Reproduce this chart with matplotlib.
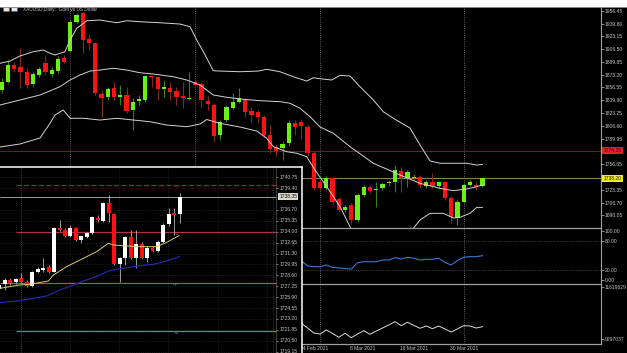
import numpy as np
import matplotlib.pyplot as plt
from matplotlib.lines import Line2D
from matplotlib.patches import Rectangle
from matplotlib.transforms import blended_transform_factory as blend

plt.rcParams['font.family'] = ['Liberation Sans', 'DejaVu Sans']

W, H = 627, 353

# ---- XAUUSD daily, bar 0 = leftmost visible bar ----
d_open = [1853.2, 1864.0, 1886.4, 1883.5, 1877.0, 1860.6, 1872.7, 1888.7, 1874.0, 1878.3,
          1894.5, 1904.4, 1942.1, 1953.1, 1919.2, 1914.8, 1848.0, 1844.1, 1855.4, 1844.5,
          1846.7, 1827.2, 1838.5, 1840.2, 1871.4, 1869.7, 1854.1, 1855.4, 1852.3, 1845.4,
          1841.5, 1864.0, 1860.4, 1839.5, 1833.7, 1794.6, 1814.1, 1830.2, 1837.2, 1840.2,
          1826.3, 1824.9, 1818.4, 1794.6, 1779.0, 1777.3, 1783.8, 1809.8, 1811.5, 1805.0,
          1770.8, 1733.8, 1725.2, 1738.2, 1711.3, 1697.0, 1703.5, 1684.0, 1716.5, 1726.5,
          1723.0, 1725.2, 1731.5, 1733.8, 1747.7, 1738.0, 1738.0, 1740.3, 1727.9, 1733.8,
          1727.9, 1732.8, 1712.2, 1686.5, 1707.8, 1729.9, 1729.5, 1728.2]
d_high = [1868.8, 1892.3, 1889.7, 1907.9, 1881.9, 1876.6, 1883.2, 1898.8, 1883.2, 1897.5,
          1898.8, 1944.3, 1953.1, 1955.1, 1924.8, 1916.1, 1853.2, 1857.5, 1864.0, 1859.7,
          1857.5, 1842.8, 1846.7, 1872.7, 1872.7, 1871.4, 1866.2, 1864.0, 1857.5, 1864.0,
          1877.0, 1868.8, 1863.6, 1845.4, 1836.3, 1814.1, 1833.7, 1848.9, 1855.4, 1842.4,
          1831.5, 1827.2, 1820.7, 1807.6, 1782.9, 1786.8, 1814.1, 1814.1, 1815.4, 1807.6,
          1773.8, 1736.0, 1741.2, 1740.3, 1713.9, 1703.5, 1706.1, 1719.1, 1729.5, 1729.5,
          1733.8, 1733.4, 1736.0, 1755.5, 1753.3, 1749.0, 1743.8, 1742.5, 1736.0, 1745.5,
          1734.7, 1734.7, 1715.2, 1711.3, 1732.1, 1736.0, 1733.8, 1739.9]
d_low = [1849.3, 1862.3, 1876.6, 1855.8, 1855.8, 1857.1, 1870.1, 1872.7, 1870.1, 1875.3,
         1888.4, 1903.1, 1940.0, 1901.0, 1905.3, 1846.7, 1818.4, 1840.2, 1840.2, 1833.7,
         1822.9, 1801.1, 1833.7, 1838.0, 1857.5, 1840.2, 1844.5, 1840.2, 1833.7, 1829.4,
         1840.2, 1855.8, 1829.4, 1827.2, 1785.9, 1788.1, 1811.5, 1828.5, 1835.9, 1818.4,
         1811.9, 1810.2, 1792.0, 1770.8, 1767.3, 1762.1, 1780.3, 1794.6, 1789.4, 1767.3,
         1723.0, 1723.0, 1723.0, 1704.8, 1694.4, 1694.4, 1678.7, 1681.3, 1713.9, 1719.1,
         1701.3, 1723.0, 1728.2, 1720.8, 1720.8, 1727.3, 1736.0, 1725.6, 1725.6, 1725.2,
         1725.6, 1709.6, 1680.0, 1677.4, 1706.1, 1728.2, 1723.0, 1726.9]
d_close = [1863.6, 1885.8, 1880.5, 1877.0, 1859.7, 1874.0, 1880.5, 1877.0, 1879.2, 1893.9,
           1890.0, 1942.1, 1950.9, 1918.3, 1914.0, 1848.9, 1842.4, 1854.1, 1844.1, 1847.1,
           1825.9, 1838.0, 1841.1, 1870.8, 1869.7, 1854.1, 1856.7, 1851.0, 1844.5, 1842.4,
           1843.2, 1859.7, 1840.8, 1835.0, 1793.3, 1811.9, 1831.1, 1838.0, 1843.2, 1824.9,
           1821.3, 1818.4, 1794.6, 1776.0, 1773.8, 1782.5, 1809.8, 1805.4, 1806.3, 1770.8,
           1725.6, 1725.2, 1739.0, 1707.4, 1697.0, 1700.2, 1684.0, 1716.5, 1726.5, 1722.1,
           1724.9, 1730.8, 1733.0, 1749.0, 1738.6, 1746.4, 1740.3, 1728.9, 1733.8, 1728.6,
           1732.8, 1712.2, 1688.2, 1707.8, 1729.5, 1734.0, 1727.3, 1738.2]

# Bollinger bands read at bar positions
bb_up_x = [-0.27, 1.33, 2.93, 5.06, 6.66, 7.74, 8.54, 10.14, 10.94, 12.02, 13.62, 15.75,
           18.42, 20.03, 22.16, 25.36, 28.56, 30.17, 31.24, 32.30, 33.90, 34.97, 38.18,
           41.11, 42.45, 44.59, 46.72, 48.86, 49.92, 50.99, 52.87, 54.20, 55.80, 57.40,
           59.53, 61.13, 62.74, 63.81, 65.41, 67.01, 68.62, 70.22, 74.50, 76.10, 77.0]
bb_up = [1888.0, 1890.9, 1897.5, 1903.1, 1905.3, 1901.0, 1898.8, 1903.1, 1918.3, 1933.5,
         1943.4, 1944.3, 1940.8, 1943.4, 1942.1, 1940.8, 1939.1, 1935.6, 1918.3, 1903.1,
         1878.3, 1877.9, 1877.0, 1877.9, 1880.2, 1877.0, 1870.5, 1864.9, 1869.2, 1867.9,
         1866.2, 1872.3, 1871.4, 1857.5, 1840.2, 1824.9, 1816.4, 1811.2, 1803.7, 1781.6,
         1760.8, 1757.8, 1757.8, 1755.5, 1756.2]
bb_mid_x = [-0.27, 2.93, 6.14, 9.34, 10.94, 12.54, 14.15, 15.75, 17.88, 20.03, 22.16,
            24.29, 27.49, 29.64, 31.77, 33.90, 36.05, 38.71, 41.38, 44.59, 46.19, 47.79,
            49.39, 51.0, 53.12, 55.80, 59.53, 62.74, 63.81, 67.01, 70.22, 72.35, 74.50,
            76.10, 77.0]
bb_mid = [1833.7, 1840.2, 1846.7, 1857.5, 1866.2, 1872.7, 1877.9, 1879.2, 1881.5, 1879.2,
          1875.7, 1874.0, 1870.5, 1866.2, 1859.7, 1846.7, 1843.7, 1841.1, 1839.3, 1838.0,
          1835.9, 1829.4, 1818.4, 1805.0, 1796.8, 1779.4, 1757.8, 1746.4, 1742.5, 1731.7,
          1725.2, 1722.1, 1724.3, 1727.3, 1729.5]
bb_lo_x = [-0.27, 2.93, 6.14, 7.74, 8.54, 9.87, 10.94, 13.07, 15.75, 18.42, 21.08, 23.76,
           26.43, 29.64, 31.77, 32.84, 34.97, 38.18, 40.85, 42.45, 43.51, 45.66, 47.26,
           48.86, 50.19, 52.07, 54.20, 55.80, 57.0, 65.0, 65.94, 67.01, 68.62, 70.75,
           72.35, 73.42, 75.02, 76.10, 77.0]
bb_lo = [1779.0, 1782.9, 1790.7, 1809.8, 1820.7, 1827.2, 1816.4, 1816.4, 1814.1, 1816.4,
         1814.1, 1811.9, 1807.6, 1805.4, 1808.9, 1814.8, 1809.8, 1805.0, 1799.8, 1790.3,
         1779.4, 1772.9, 1770.8, 1766.4, 1749.0, 1727.3, 1701.3, 1675.2, 1655.0, 1655.0,
         1673.1, 1683.9, 1692.6, 1692.6, 1686.5, 1687.5, 1692.6, 1700.4, 1700.4]

month_bars = [11, 31, 51, 74]
date_bars = [48, 56, 64, 72]
date_labels = ['24 Feb 2021', '8 Mar 2021', '18 Mar 2021', '30 Mar 2021']
price_ticks = [1956.45, 1939.80, 1923.15, 1906.50, 1889.85, 1873.20, 1856.55, 1839.90,
               1823.25, 1806.60, 1789.95, 1756.65, 1723.35, 1706.70, 1690.05]
res_level = 1774.15

# lower panels (visible part only, from bar 48)
osc_start = 48
osc = [38.9, 29.0, 27.4, 27.4, 30.8, 25.8, 25.2, 23.5, 22.8, 35.5, 37.5, 37.5, 37.5, 40.9,
       40.9, 45.6, 42.9, 46.4, 44.5, 40.9, 42.3, 42.3, 44.4, 36.0, 30.8, 40.0, 46.4, 47.6,
       47.6, 49.6]
vol = [9998000, 9788000, 9565000, 9520000, 9699000, 9543000, 9373000, 9552000, 9355000,
       9520000, 9668000, 9507000, 9654000, 9788000, 9922000, 10070000, 9891000, 10043000,
       9909000, 9775000, 9878000, 9757000, 9878000, 9744000, 9610000, 9744000, 9891000,
       9878000, 9788000, 9846000]
vol_ticks = [11619629, 9297037]

# ---- intraday inset ----
h_open = [1726.91, 1727.53, 1728.03, 1727.74, 1728.23, 1727.74, 1727.32, 1728.98, 1729.22,
          1729.59, 1729.06, 1734.43, 1734.22, 1733.52, 1734.43, 1732.98, 1733.39, 1733.81,
          1735.75, 1735.33, 1737.52, 1736.20, 1730.01, 1730.71, 1733.39, 1730.79, 1732.48,
          1730.71, 1732.03, 1731.62, 1732.77, 1734.92, 1736.28, 1736.16]
h_high = [1727.61, 1728.31, 1728.23, 1728.31, 1728.85, 1728.03, 1729.14, 1729.68, 1730.71,
          1729.88, 1734.63, 1735.46, 1734.43, 1734.84, 1734.63, 1733.60, 1734.01, 1735.99,
          1736.08, 1737.73, 1738.55, 1736.37, 1730.92, 1733.52, 1734.22, 1734.22, 1732.69,
          1732.20, 1732.20, 1732.98, 1735.04, 1736.90, 1736.90, 1738.76]
h_low = [1726.66, 1726.79, 1727.41, 1727.57, 1727.61, 1727.20, 1727.16, 1728.85, 1729.06,
         1728.85, 1728.98, 1734.14, 1733.39, 1733.39, 1732.86, 1732.57, 1733.27, 1733.68,
         1735.25, 1735.17, 1735.25, 1729.88, 1727.74, 1729.88, 1730.59, 1729.47, 1730.59,
         1730.30, 1731.45, 1731.45, 1732.65, 1734.76, 1733.60, 1735.04]
h_close = [1727.41, 1728.03, 1727.61, 1728.15, 1727.74, 1727.32, 1728.98, 1729.35, 1729.55,
           1729.06, 1734.43, 1734.26, 1733.52, 1734.43, 1732.98, 1733.48, 1733.81, 1735.79,
           1735.46, 1737.52, 1736.28, 1730.01, 1730.71, 1733.39, 1730.71, 1732.48, 1730.71,
           1732.03, 1731.62, 1732.77, 1734.84, 1736.20, 1736.08, 1738.35]
ma_fast_x = [0.12, 1.95, 3.78, 5.61, 8.96, 9.87, 12.31, 14.75, 17.79, 19.93, 20.84, 23.28,
             25.72, 28.76, 30.59, 32.85]
ma_fast = [1726.99, 1727.20, 1727.41, 1727.49, 1727.90, 1728.64, 1729.68, 1730.50, 1731.53,
           1732.57, 1732.36, 1732.24, 1732.15, 1732.15, 1732.69, 1733.52]
ma_slow_x = [0.12, 1.95, 3.78, 6.22, 8.65, 11.09, 13.53, 15.97, 18.40, 19.93, 21.76, 23.28,
             25.72, 28.16, 30.59, 32.85]
ma_slow = [1725.22, 1725.34, 1725.47, 1725.76, 1726.04, 1726.79, 1727.41, 1728.03, 1728.64,
           1729.14, 1729.39, 1729.55, 1729.80, 1729.97, 1730.38, 1730.92]
pivot_names = ['R2', 'R1', 'PP', 'S1']
pivot_levels = [1739.79, 1733.97, 1727.61, 1721.75]
pivot_colors = ['#8e2a2a', '#a8344a', '#9c5e50', '#5c9c2c']
inset_ticks = [1740.75, 1739.40, 1736.70, 1735.35, 1734.00, 1732.65, 1731.30, 1729.95,
               1728.60, 1727.25, 1725.90, 1724.55, 1723.20, 1721.85, 1720.50, 1719.15]

AXIS_TXT = '#c4c4c4'
FS = 3.6


def px_box(x0, y0, x1, y1):
    return [x0 / W, 1 - y1 / H, (x1 - x0) / W, (y1 - y0) / H]


def plain(a):
    a.set_facecolor('black')
    a.set_xticks([])
    for s in a.spines.values():
        s.set_visible(False)


def candles(a, o, h, l, c, up, dn, up_w, dn_w, width, min_h, wick_lw):
    o, h, l, c = map(np.asarray, (o, h, l, c))
    x = np.arange(len(o))
    bull = c >= o
    a.vlines(x, l, h, colors=list(np.where(bull, up_w, dn_w)), lw=wick_lw, zorder=2)
    a.bar(x, np.maximum(np.abs(c - o), min_h), width, np.minimum(o, c),
          color=list(np.where(bull, up, dn)), lw=0, zorder=3)


def right_ticks(a, ticks, labels):
    a.yaxis.tick_right()
    a.set_yticks(ticks)
    a.set_yticklabels(labels)
    a.tick_params(axis='y', colors=AXIS_TXT, labelsize=FS, length=1.8, width=0.5, pad=0.8)


fig = plt.figure(figsize=(W / 100, H / 100), dpi=100, facecolor='white')

bg = fig.add_axes(px_box(0, 7, W, H))
plain(bg)
bg.set_yticks([])

XL = (-0.27, 96.0)

# main price panel
ax = fig.add_axes(px_box(0, 7, 601, 228))
plain(ax)
ax.set_xlim(*XL)
ax.set_ylim(1673.5, 1961.3)
for m in month_bars:
    ax.axvline(m, color='#7a7a7a', lw=0.6, ls=(0, (1, 1.6)), zorder=1)
ax.axhline(res_level, color='#6e1c1c', lw=0.8, zorder=1)
ax.axhline(d_close[-1], color='#84844e', lw=0.8, zorder=1)
ax.plot(bb_up_x, bb_up, color='#d4d4d4', lw=0.7, zorder=4)
ax.plot(bb_mid_x, bb_mid, color='#d4d4d4', lw=0.7, zorder=4)
ax.plot(bb_lo_x, bb_lo, color='#d4d4d4', lw=0.7, zorder=4)
candles(ax, d_open, d_high, d_low, d_close, '#6cf010', '#ff1111', '#3d7a1a', '#7c2a22',
        0.68, 0.9, 0.8)
right_ticks(ax, price_ticks, [f'{t:.2f}' for t in price_ticks])
tr = blend(ax.transAxes, ax.transData)
ax.text(1.004, res_level, f'{res_level:.2f}', transform=tr, ha='left', va='center',
        fontsize=FS, color='#3a0000', clip_on=False,
        bbox=dict(boxstyle='square,pad=0.25', fc='#e3221c', ec='none'))
ax.text(1.004, d_close[-1], f'{d_close[-1]:.2f}', transform=tr, ha='left', va='center',
        fontsize=FS, color='#202000', clip_on=False,
        bbox=dict(boxstyle='square,pad=0.25', fc='#f0ec2a', ec='none'))

# oscillator panel
ax2 = fig.add_axes(px_box(0, 228.5, 601, 283.5))
plain(ax2)
ax2.set_xlim(*XL)
ax2.set_ylim(-6.45, 104.4)
for m in month_bars:
    ax2.axvline(m, color='#7a7a7a', lw=0.6, ls=(0, (1, 1.6)))
for lv in (80, 20):
    ax2.axhline(lv, color='#6a6a6a', lw=0.5, ls=(0, (1, 1.6)))
ax2.plot(np.arange(osc_start, osc_start + len(osc)), osc, color='#3b78d6', lw=0.8)
right_ticks(ax2, [100, 80, 20, 0], ['100.00', '80.00', '20.00', '0.00'])

# volume-type panel
ax3 = fig.add_axes(px_box(0, 284.5, 601, 343.5))
plain(ax3)
ax3.set_xlim(*XL)
ax3.set_ylim(9096057, 11731291)
for m in month_bars:
    ax3.axvline(m, color='#7a7a7a', lw=0.6, ls=(0, (1, 1.6)))
ax3.plot(np.arange(osc_start, osc_start + len(vol)), vol, color='#dcdcdc', lw=0.7)
right_ticks(ax3, vol_ticks, [str(v) for v in vol_ticks])

# date strip
axd = fig.add_axes(px_box(0, 344, 601, 353))
plain(axd)
axd.set_yticks([])
axd.set_xlim(*XL)
axd.set_ylim(0, 1)
for b, lab in zip(date_bars, date_labels):
    axd.text(b - 0.2, 0.45, lab, ha='left', va='center', fontsize=FS, color=AXIS_TXT)

# separators and title strip
for yy in (7, 228, 284, 344):
    fig.add_artist(Line2D([0, 601 / W if yy != 7 else 1], [1 - yy / H] * 2,
                          color='#a0a0a0', lw=0.9 if yy != 7 else 0.6))
fig.add_artist(Line2D([601 / W] * 2, [1 - 7 / H, 1 - 344 / H], color='#a0a0a0', lw=0.8))
fig.add_artist(Rectangle((3 / W, 1 - 11 / H), 6 / W, 4 / H, fc='#e8e8e8', ec='#c03030', lw=0.4))
fig.add_artist(Rectangle((11 / W, 1 - 11 / H), 6 / W, 4 / H, fc='#e8e8e8', ec='#3050c0', lw=0.4))
fig.text(23 / W, 1 - 9.3 / H, 'XAUUSD,Daily:  Gold vs US Dollar', fontsize=3.4,
         color=AXIS_TXT, va='center', ha='left')

# ---- inset intraday window ----
ins = fig.add_axes(px_box(0, 167, 301.5, 353))
ins.set_zorder(10)
plain(ins)
ins.set_yticks([])
for side in ('top', 'right'):
    ins.spines[side].set_visible(True)
    ins.spines[side].set_color('white')
    ins.spines[side].set_linewidth(1.1)
ins.set_xlim(0.12, 55.24)
ins.set_ylim(1718.98, 1742.02)
edge = 50.6
for t in inset_ticks:
    ins.hlines(t, 0.12, edge, color='#2e2e2e', lw=0.5, ls=(0, (1, 1.6)), zorder=1)
for g in np.arange(3.9 + 9, edge, 9):
    ins.axvline(g, color='#2e2e2e', lw=0.5, ls=(0, (1, 1.6)), zorder=1)
ins.axvline(3.9, color='#5c5c5c', lw=0.6, ls=(0, (1, 1.6)), zorder=1)
ins.axvline(50.0, color='#4a4a4a', lw=0.6, ls=(0, (1, 1.6)), zorder=1)
ins.axvline(edge, color='#5a5a5a', lw=0.5, zorder=1)

ins.hlines(h_close[-1], 0.12, edge, color='#9c9c9c', lw=0.7, zorder=2)
for name, lv, col in zip(pivot_names, pivot_levels, pivot_colors):
    start = 0.12 if name == 'PP' else 3.05
    ls = (0, (4, 2)) if name == 'R2' else '-'
    ins.hlines(lv, start, edge, color=col, lw=0.9, ls=ls, zorder=2)
    ins.text(32.3, lv - 0.25, name, ha='center', va='center', fontsize=3.2, color=col,
             zorder=2)

ins.plot(ma_fast_x, ma_fast, color='#d6cf6c', lw=0.7, zorder=4)
ins.plot(ma_slow_x, ma_slow, color='#1c2ca8', lw=0.9, zorder=4)
candles(ins, h_open, h_high, h_low, h_close, '#ffffff', '#ff1111', '#b4b4b4', '#b4b4b4',
        0.73, 0.06, 0.6)

for t in inset_ticks:
    ins.hlines(t, edge, edge + 0.35, color='#a0a0a0', lw=0.5)
    ins.text(51.2, t, f'{t:.2f}', ha='left', va='center', fontsize=FS, color=AXIS_TXT)
ins.text(51.2, h_close[-1], f'{h_close[-1]:.2f}', ha='left', va='center', fontsize=FS,
         color='#111111', bbox=dict(boxstyle='square,pad=0.2', fc='#d8d6c8', ec='none'))

fig.savefig('out.png', dpi=100, facecolor=fig.get_facecolor())
